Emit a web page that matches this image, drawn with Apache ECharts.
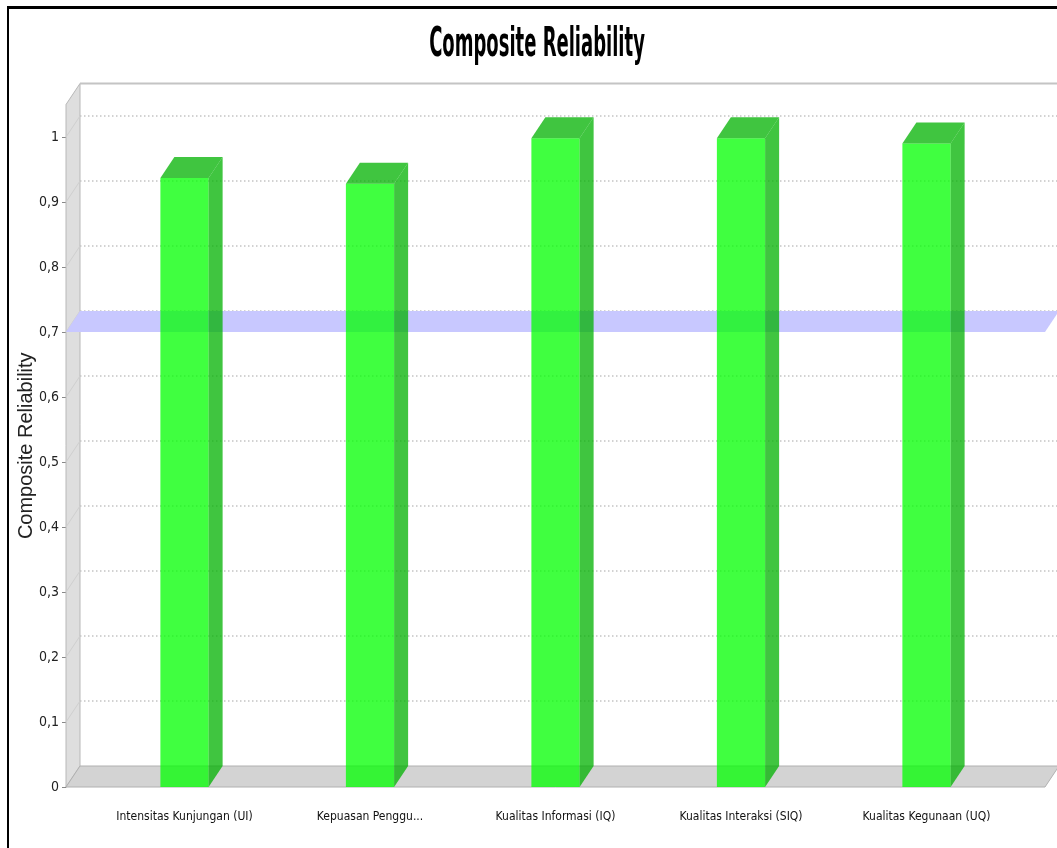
<!DOCTYPE html>
<html>
<head>
<meta charset="utf-8">
<title>Composite Reliability</title>
<script src="https://cdn.jsdelivr.net/npm/echarts@6/dist/echarts.min.js"></script>
<style>
html, body { margin: 0; padding: 0; background: #fff; overflow: hidden; }
#main { position: absolute; left: 0; top: 0; width: 1057px; height: 848px; }
#frame { position: absolute; left: 7px; top: 6px; width: 1100px; height: 900px;
         border-left: 2px solid #000; border-top: 3px solid #000; pointer-events: none; }
</style>
</head>
<body>
<div id="main"></div>
<div id="frame"></div>
<script>
const categories = [
    'Intensitas Kunjungan (UI)',
    'Kepuasan Penggu...',
    'Kualitas Informasi (IQ)',
    'Kualitas Interaksi (SIQ)',
    'Kualitas Kegunaan (UQ)'
];
const reliability = [0.937, 0.928, 0.998, 0.998, 0.990];
const yTicks = [0, 0.1, 0.2, 0.3, 0.4, 0.5, 0.6, 0.7, 0.8, 0.9, 1];
const threshold = [0.7];
const yMax = 1.05;

// 3d depth offset of the plot (px)
const DX = 14, DY = 21;
const narrow = "'Liberation Sans Narrow', 'DejaVu Sans Condensed', sans-serif";

const chart = echarts.init(document.getElementById('main'));

function renderWalls(params, api) {
    const fl = api.coord([0, 0]);
    const fr = api.coord([1, 0]);
    const tl = api.coord([0, yMax]);
    const x0 = fl[0], x1 = fr[0], y0 = fl[1], yt = tl[1];
    return {
        type: 'group',
        children: [
            {
                type: 'polygon',
                shape: { points: [[x0, yt], [x0 + DX, yt - DY], [x0 + DX, y0 - DY], [x0, y0]] },
                style: { fill: '#dedede', stroke: '#b8b8b8', lineWidth: 1 }
            },
            {
                type: 'polygon',
                shape: { points: [[x0, y0], [x0 + DX, y0 - DY], [x1 + DX, y0 - DY], [x1, y0]] },
                style: { fill: '#d3d3d3', stroke: '#b0b0b0', lineWidth: 1 }
            },
            {
                type: 'line',
                shape: { x1: x0 + DX, y1: yt - DY, x2: x1 + DX, y2: yt - DY },
                style: { stroke: '#c4c4c4', lineWidth: 2 }
            }
        ]
    };
}

function renderGridLine(params, api) {
    const p = api.coord([0, api.value(1)]);
    const q = api.coord([1, api.value(1)]);
    return {
        type: 'group',
        children: [
            {
                type: 'line',
                shape: { x1: p[0] + DX, y1: p[1] - DY, x2: q[0] + DX, y2: q[1] - DY },
                style: { stroke: '#c4c4c4', lineWidth: 1.5, lineDash: [1.5, 2.5] }
            },
            {
                type: 'line',
                shape: { x1: p[0], y1: p[1], x2: p[0] + DX, y2: p[1] - DY },
                style: { stroke: '#cfcfcf', lineWidth: 1 }
            }
        ]
    };
}

function renderBand(params, api) {
    const p = api.coord([0, api.value(1)]);
    const q = api.coord([1, api.value(1)]);
    return {
        type: 'polygon',
        shape: { points: [[p[0], p[1]], [q[0], q[1]], [q[0] + DX, q[1] - DY], [p[0] + DX, p[1] - DY]] },
        style: { fill: '#c8c8ff' }
    };
}

function renderBar(params, api) {
    const top = api.coord([api.value(0), api.value(1)]);
    const base = api.coord([api.value(0), 0]);
    const w = api.size([1, 0])[0] * 0.26;
    const l = top[0] - w / 2, r = top[0] + w / 2;
    const t = top[1], b = base[1];
    const front = 'rgba(0,255,0,0.75)';
    const dark = 'rgba(0,178,0,0.75)';
    return {
        type: 'group',
        children: [
            { type: 'rect', shape: { x: l, y: t, width: w, height: b - t }, style: { fill: front } },
            {
                type: 'polygon',
                shape: { points: [[r, t], [r + DX, t - DY], [r + DX, b - DY], [r, b]] },
                style: { fill: dark }
            },
            {
                type: 'polygon',
                shape: { points: [[l, t], [l + DX, t - DY], [r + DX, t - DY], [r, t]] },
                style: { fill: dark }
            }
        ]
    };
}

const option = {
    animation: false,
    backgroundColor: '#fff',
    // title drawn as stretched text to match the tall condensed look
    graphic: [
        {
            type: 'text',
            x: 537,
            y: 26,
            scaleY: 2,
            style: {
                text: 'Composite Reliability',
                textAlign: 'center',
                textVerticalAlign: 'top',
                fill: '#000',
                font: "bold 20px 'Liberation Sans Narrow', 'DejaVu Sans Condensed', sans-serif"
            }
        }
    ],
    grid: [
        { left: 66, right: 12, top: 104.5, bottom: 61, outerBoundsMode: 'none' },
        { left: 91.75, right: 37.75, top: 104.5, bottom: 61, outerBoundsMode: 'none' }
    ],
    xAxis: [
        { gridIndex: 0, type: 'value', min: 0, max: 1, show: false },
        {
            gridIndex: 1,
            type: 'category',
            data: categories,
            axisLine: { show: false },
            axisTick: { show: false },
            splitLine: { show: false },
            axisLabel: { interval: 0, margin: 24, fontSize: 12, color: '#111', fontFamily: narrow }
        }
    ],
    yAxis: [
        {
            gridIndex: 0,
            type: 'value',
            min: 0,
            max: yMax,
            interval: 0.1,
            name: 'Composite Reliability',
            nameLocation: 'middle',
            nameGap: 30,
            nameMoveOverlap: false,
            nameTextStyle: { fontSize: 20, color: '#222', fontFamily: 'Liberation Sans, Arial, sans-serif' },
            axisLine: { show: true, lineStyle: { color: '#a0a0a0' } },
            axisTick: { show: true, length: 4, lineStyle: { color: '#888' }, customValues: yTicks },
            axisLabel: {
                color: '#222',
                fontSize: 14,
                margin: 7,
                fontFamily: narrow,
                customValues: yTicks,
                formatter: v => String(v).replace('.', ',')
            },
            splitLine: { show: false }
        },
        { gridIndex: 1, type: 'value', min: 0, max: yMax, show: false }
    ],
    series: [
        {
            type: 'custom', name: 'walls', xAxisIndex: 0, yAxisIndex: 0, z: 1, silent: true,
            data: [[0, 0]], renderItem: renderWalls
        },
        {
            type: 'custom', name: 'grid', xAxisIndex: 0, yAxisIndex: 0, z: 2, silent: true,
            data: yTicks.slice(1).map(v => [0, v]), renderItem: renderGridLine
        },
        {
            type: 'custom', name: 'threshold', xAxisIndex: 0, yAxisIndex: 0, z: 3, silent: true,
            data: threshold.map(v => [0, v]), renderItem: renderBand
        },
        {
            type: 'custom', name: 'Composite Reliability', xAxisIndex: 1, yAxisIndex: 1, z: 4,
            data: reliability.map((v, i) => [i, v]),
            encode: { x: 0, y: 1 },
            renderItem: renderBar
        }
    ]
};
chart.setOption(option);
</script>
</body>
</html>
